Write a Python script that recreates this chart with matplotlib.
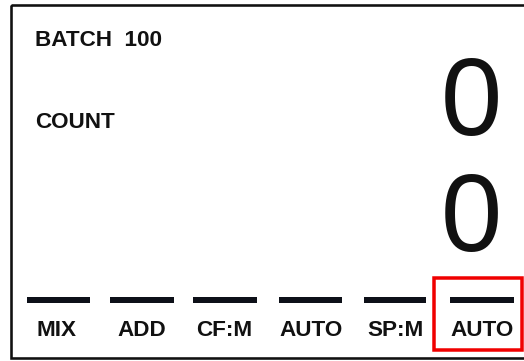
import matplotlib
matplotlib.use("Agg")
import matplotlib.pyplot as plt
from matplotlib.patches import Rectangle

# display content
batch_label = "BATCH"
batch_value = 100
count_label = "COUNT"
big_values = [0, 0]
mode_labels = ["MIX", "ADD", "CF:M", "AUTO", "SP:M", "AUTO"]
highlight_index = 5

W, H = 524, 361
fig = plt.figure(figsize=(W / 100, H / 100), dpi=100)
ax = fig.add_axes([0, 0, 1, 1])
ax.set_xlim(0, W)
ax.set_ylim(H, 0)
ax.axis("off")

px = 72 / 100  # points per pixel
font = "Liberation Sans"
small = 22.5 * px

# outer border
ax.add_patch(Rectangle((11, 5), 530, 353, fill=False, edgecolor="#111111",
                       linewidth=2.6 * px))

ax.text(35, 40, f"{batch_label}  {batch_value}", fontsize=small, fontweight="bold",
        family=font, va="center", ha="left", color="#111111")
ax.text(35, 123, count_label, fontsize=small, fontweight="bold",
        family=font, va="center", ha="left", color="#111111")

big_y = [95, 212]
for v, y in zip(big_values, big_y):
    ax.text(471, y, str(v), fontsize=110 * px, family=font, va="center_baseline",
            ha="center", color="#111111")

dash_x = [(27, 90), (110, 174), (193, 257), (279, 342), (364, 426), (450, 514)]
label_x = [56, 142, 224, 311, 395, 482]
for (x0, x1), lx, lab in zip(dash_x, label_x, mode_labels):
    ax.plot([x0, x1], [300, 300], color="#0d1018", linewidth=6 * px,
            solid_capstyle="butt")
    ax.text(lx, 330, lab, fontsize=small, fontweight="bold", family=font,
            va="center", ha="center", color="#111111")

x0, x1 = dash_x[highlight_index]
ax.add_patch(Rectangle((x0 - 16, 278), 88, 72, fill=False, edgecolor="#f00000",
                       linewidth=3.5 * px))

fig.savefig("out.png", dpi=100)
